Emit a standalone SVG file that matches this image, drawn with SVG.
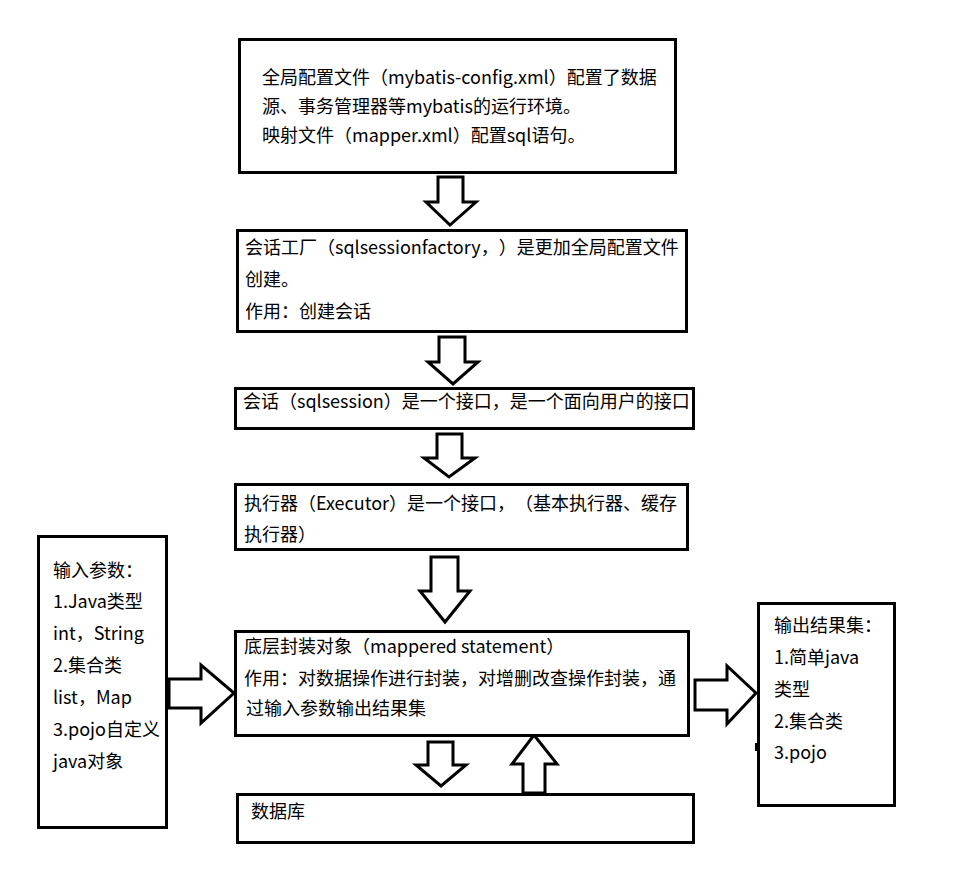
<svg xmlns="http://www.w3.org/2000/svg" width="955" height="893" viewBox="0 0 955 893">
<style>
.box{fill:#fff;stroke:#000;stroke-width:3}
.arr{fill:#fff;stroke:#000;stroke-width:3;stroke-linejoin:miter}
text{font-family:"Noto Sans CJK SC","Microsoft YaHei",sans-serif;font-size:18px;fill:#000;text-spacing-trim:space-all}
</style>
<rect width="955" height="893" fill="#fff"/>
<g id="connectors">
<polygon class="arr" points="438,177 463,177 463,202 476,202 450,225 426,202 438,202"/>
<polygon class="arr" points="439,337 465,337 465,362 478,362 453,384 428,362 439,362"/>
<polygon class="arr" points="437,434 462,434 462,458 475,458 449,477 424,458 437,458"/>
<polygon class="arr" points="431,557 458,557 458,591 470,591 445,622 420,591 431,591"/>
<polygon class="arr" points="428,742 453,742 453,765 466,765 441,786 416,765 428,765"/>
<polygon class="arr" points="523,793 545,793 545,764 557,764 534,735 512,764 523,764"/>
<polygon class="arr" points="169,679 201,679 201,665 234,693 201,723 201,708 169,708"/>
<polygon class="arr" points="695,680 727,680 727,666 756,693 727,724 727,710 695,710"/>
<rect x="755" y="743" width="3" height="8" fill="#000"/>
</g>
<g id="config">
<rect class="box" x="239.5" y="39.5" width="436" height="133"/>
<text x="262" y="84">全局配置文件（mybatis-config.xml）配置了数据</text>
<text x="262" y="113">源、事务管理器等mybatis的运行环境。</text>
<text x="262" y="142">映射文件（mapper.xml）配置sql语句。</text>
</g>
<g id="factory">
<rect class="box" x="237.5" y="230.5" width="449" height="101"/>
<text x="245" y="254">会话工厂（sqlsessionfactory，）是更加全局配置文件</text>
<text x="245" y="286">创建。</text>
<text x="245" y="318">作用：创建会话</text>
</g>
<g id="session">
<rect class="box" x="235.5" y="388.5" width="458" height="40"/>
<text x="243" y="408">会话（sqlsession）是一个接口，是一个面向用户的接口</text>
</g>
<g id="executor">
<rect class="box" x="235.5" y="484.5" width="452" height="65"/>
<text x="244" y="510">执行器（Executor）是一个接口，（基本执行器、缓存</text>
<text x="244" y="541">执行器）</text>
</g>
<g id="mapped">
<rect class="box" x="235.5" y="631.5" width="453" height="104"/>
<text x="244" y="653">底层封装对象（mappered statement）</text>
<text x="244" y="685">作用：对数据操作进行封装，对增删改查操作封装，通</text>
<text x="246" y="715">过输入参数输出结果集</text>
</g>
<g id="database">
<rect class="box" x="237.5" y="794.5" width="456" height="48"/>
<text x="251" y="818">数据库</text>
</g>
<g id="input">
<rect class="box" x="38.5" y="536.5" width="128" height="291"/>
<text x="53" y="577">输入参数：</text>
<text x="53" y="608">1.Java类型</text>
<text x="53" y="640">int，String</text>
<text x="53" y="672">2.集合类</text>
<text x="53" y="704">list，Map</text>
<text x="53" y="736">3.pojo自定义</text>
<text x="53" y="768">java对象</text>
</g>
<g id="output">
<rect class="box" x="758.5" y="603.5" width="136" height="202"/>
<text x="774" y="632">输出结果集：</text>
<text x="774" y="664">1.简单java</text>
<text x="774" y="696">类型</text>
<text x="774" y="728">2.集合类</text>
<text x="774" y="759">3.pojo</text>
</g>
</svg>
